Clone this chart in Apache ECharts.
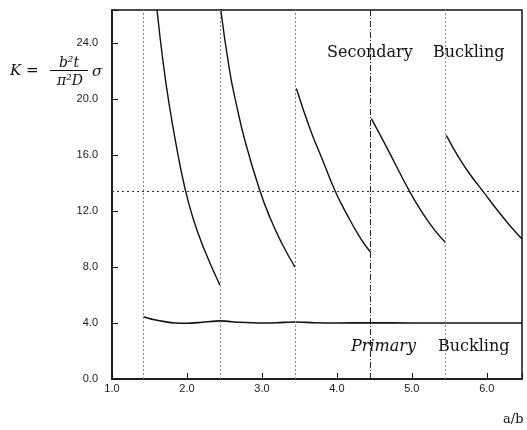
<!DOCTYPE html>
<html>
<head>
<meta charset="utf-8">
<script src="https://cdn.jsdelivr.net/npm/echarts@6/dist/echarts.min.js"></script>
<style>
  html, body { margin: 0; padding: 0; background: #fff; }
  #chart { width: 527px; height: 430px; }
</style>
</head>
<body>
<div id="chart"></div>
<script>
// a/b vs K
const xTicks = [1, 2, 3, 4, 5, 6];
const yTicks = [0, 4, 8, 12, 16, 20, 24];

const secondary1 = [[1.60, 26.4], [1.68, 22.7], [1.76, 19.7], [1.86, 16.6], [1.97, 13.7], [2.08, 11.5], [2.22, 9.4], [2.44, 6.7]];
const secondary2 = [[2.45, 26.4], [2.57, 22.0], [2.66, 19.6], [2.78, 16.9], [2.97, 13.5], [3.11, 11.5], [3.26, 9.75], [3.44, 8.0]];
const secondary3 = [[3.46, 20.75], [3.64, 17.9], [3.82, 15.5], [3.98, 13.4], [4.13, 11.8], [4.31, 10.1], [4.45, 9.05]];
const secondary4 = [[4.46, 18.6], [4.66, 16.6], [4.97, 13.4], [5.15, 11.8], [5.31, 10.6], [5.45, 9.75]];
const secondary5 = [[5.46, 17.4], [5.64, 15.7], [5.80, 14.45], [5.95, 13.4], [6.15, 12.0], [6.31, 10.95], [6.47, 10.0]];

const primary = [[1.42, 4.45], [1.55, 4.25], [1.70, 4.1], [1.85, 4.0], [2.0, 3.98], [2.2, 4.05], [2.45, 4.15],
  [2.7, 4.05], [3.0, 4.0], [3.2, 4.02], [3.45, 4.07], [3.7, 4.02], [4.0, 4.0], [4.45, 4.02],
  [5.0, 4.0], [5.45, 4.0], [6.0, 4.0], [6.47, 4.0]];

const modeChanges = [1.42, 2.45, 3.45, 4.45, 5.45];
const refLevel = 13.4;

const chart = echarts.init(document.getElementById('chart'));

const secondaryLine = (data) => ({
  type: 'line',
  data: data,
  smooth: 0.5,
  symbol: 'none',
  lineStyle: { color: '#111', width: 1.4 }
});

const option = {
  animation: false,
  grid: {
    left: 112, right: 5, top: 10, bottom: 51,
    show: true, borderColor: '#111', borderWidth: 1.5
  },
  xAxis: {
    type: 'value',
    min: 1, max: 6.47, interval: 1,
    axisLine: { lineStyle: { color: '#111', width: 1.5 } },
    axisTick: { inside: true, length: 6, lineStyle: { color: '#111' } },
    axisLabel: {
      color: '#222', fontFamily: 'Liberation Sans', fontSize: 11, margin: 4,
      formatter: v => xTicks.includes(v) ? v.toFixed(1) : ''
    },
    splitLine: { show: false }
  },
  yAxis: {
    type: 'value',
    min: 0, max: 26.36, interval: 4,
    axisLine: { lineStyle: { color: '#111', width: 1.5 } },
    axisTick: { inside: true, length: 6, lineStyle: { color: '#111' } },
    axisLabel: {
      color: '#222', fontFamily: 'Liberation Sans', fontSize: 11, margin: 14,
      formatter: v => yTicks.includes(v) ? v.toFixed(1) : ''
    },
    splitLine: { show: false }
  },
  series: [
    secondaryLine(secondary1),
    secondaryLine(secondary2),
    secondaryLine(secondary3),
    secondaryLine(secondary4),
    secondaryLine(secondary5),
    {
      type: 'line',
      data: primary,
      smooth: 0.3,
      symbol: 'none',
      lineStyle: { color: '#111', width: 1.6 },
      markLine: {
        silent: true,
        symbol: 'none',
        label: { show: false },
        data: modeChanges.map(x => ({
          xAxis: x,
          lineStyle: x === 4.45
            ? { color: '#222', width: 1, type: [6, 2, 1, 2] }
            : { color: '#888', width: 1, type: [2, 2] }
        })).concat([{
          yAxis: refLevel,
          lineStyle: { color: '#333', width: 1, type: [2, 3] }
        }])
      }
    }
  ],
  graphic: [
    { type: 'text', left: 10, top: 64, style: { text: 'K =', font: 'italic 15px "DejaVu Serif"', fill: '#111' } },
    { type: 'text', x: 69, y: 63, style: { text: 'b²t', font: 'italic 14px "DejaVu Serif"', fill: '#111', align: 'center', verticalAlign: 'middle' } },
    { type: 'line', shape: { x1: 50, y1: 70.5, x2: 88, y2: 70.5 }, style: { stroke: '#111', lineWidth: 1 } },
    { type: 'text', x: 70, y: 81, style: { text: 'π²D', font: 'italic 14px "DejaVu Serif"', fill: '#111', align: 'center', verticalAlign: 'middle' } },
    { type: 'text', x: 92, y: 72, style: { text: 'σ', font: 'italic 15px "DejaVu Serif"', fill: '#111', verticalAlign: 'middle' } },
    { type: 'text', x: 327, y: 53, style: { text: 'Secondary', font: '16px "DejaVu Serif"', fill: '#111', verticalAlign: 'middle' } },
    { type: 'text', x: 433, y: 53, style: { text: 'Buckling', font: '16px "DejaVu Serif"', fill: '#111', verticalAlign: 'middle' } },
    { type: 'text', x: 351, y: 347, style: { text: 'Primary', font: 'italic 16px "DejaVu Serif"', fill: '#111', verticalAlign: 'middle' } },
    { type: 'text', x: 438, y: 347, style: { text: 'Buckling', font: '16px "DejaVu Serif"', fill: '#111', verticalAlign: 'middle' } },
    { type: 'text', x: 503, y: 420, style: { text: 'a/b', font: '13px "DejaVu Serif"', fill: '#111', verticalAlign: 'middle' } }
  ]
};

chart.setOption(option);
</script>
</body>
</html>
